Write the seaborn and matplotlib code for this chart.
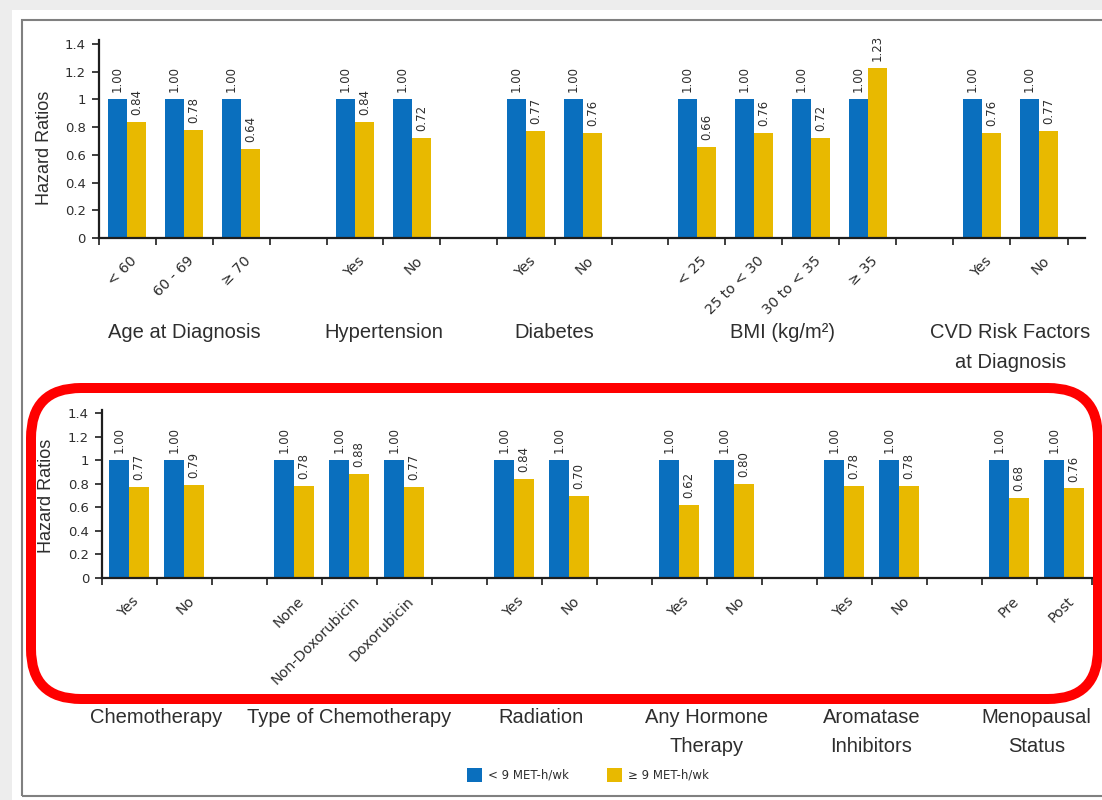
import numpy as np
import pandas as pd
import matplotlib
matplotlib.use("Agg")
import matplotlib.pyplot as plt
import seaborn as sns
from matplotlib import transforms
from matplotlib.patches import FancyBboxPatch, Rectangle

# ---------------- data ----------------
series_names = ["< 9 MET-h/wk", "≥ 9 MET-h/wk"]

top_groups = ["Age at Diagnosis", "Hypertension", "Diabetes", "BMI (kg/m²)",
              "CVD Risk Factors\nat Diagnosis"]
top_levels = [["< 60", "60 - 69", "≥ 70"], ["Yes", "No"], ["Yes", "No"],
              ["< 25", "25 to < 30", "30 to < 35", "≥ 35"], ["Yes", "No"]]
top_low_hr = [[1.00, 1.00, 1.00], [1.00, 1.00], [1.00, 1.00],
              [1.00, 1.00, 1.00, 1.00], [1.00, 1.00]]
top_high_hr = [[0.84, 0.78, 0.64], [0.84, 0.72], [0.77, 0.76],
               [0.66, 0.76, 0.72, 1.23], [0.76, 0.77]]

bottom_groups = ["Chemotherapy", "Type of Chemotherapy", "Radiation",
                 "Any Hormone\nTherapy", "Aromatase\nInhibitors", "Menopausal\nStatus"]
bottom_levels = [["Yes", "No"], ["None", "Non-Doxorubicin", "Doxorubicin"],
                 ["Yes", "No"], ["Yes", "No"], ["Yes", "No"], ["Pre", "Post"]]
bottom_low_hr = [[1.00, 1.00], [1.00, 1.00, 1.00], [1.00, 1.00],
                 [1.00, 1.00], [1.00, 1.00], [1.00, 1.00]]
bottom_high_hr = [[0.77, 0.79], [0.78, 0.88, 0.77], [0.84, 0.70],
                  [0.62, 0.80], [0.78, 0.78], [0.68, 0.76]]

y_ticks = [0, 0.2, 0.4, 0.6, 0.8, 1.0, 1.2, 1.4]
y_ticklabels = ["0", "0.2", "0.4", "0.6", "0.8", "1", "1.2", "1.4"]

# ---------------- style ----------------
BLUE = "#0a6fbe"
GOLD = "#e8b900"
TEXT = "#2e2e2e"
AXIS = "#1e1e1e"
RED = "#ff0000"

sns.set_style("white")
plt.rcParams["font.family"] = ["DejaVu Sans"]
LABEL_FONT = ["Liberation Sans", "DejaVu Sans"]

W, H = 1102, 800
fig = plt.figure(figsize=(W / 100, H / 100), dpi=100, facecolor="#ededed")


def px_axes(left, right, bottom, top):
    """Axes rectangle given in pixel coordinates (origin top-left)."""
    return fig.add_axes([left / W, 1 - bottom / H, (right - left) / W, (bottom - top) / H])


def build_panel(groups, levels, low, high):
    rows, order, ticklabels, centers = [], [], [], []
    for gi, (g, levs) in enumerate(zip(groups, levels)):
        if gi > 0:
            order.append(f"__gap{gi}")
            ticklabels.append("")
        first = len(order)
        for li, lev in enumerate(levs):
            key = f"{g}|{lev}"
            order.append(key)
            ticklabels.append(lev)
            rows.append({"slot": key, "activity": series_names[0], "hr": low[gi][li]})
            rows.append({"slot": key, "activity": series_names[1], "hr": high[gi][li]})
        centers.append((first + len(order) - 1) / 2)
    return pd.DataFrame(rows), order, ticklabels, centers


def draw_panel(ax, groups, levels, low, high, width, xmax_extra,
               group_top_px, ylabel_xy):
    df, order, ticklabels, centers = build_panel(groups, levels, low, high)
    sns.barplot(data=df, x="slot", y="hr", hue="activity", order=order,
                hue_order=series_names, palette=[BLUE, GOLD], width=width,
                errorbar=None, saturation=1, linewidth=0, ax=ax)
    ax.set_facecolor("none")

    for cont in ax.containers:
        ax.bar_label(cont, fmt="%.2f", rotation=90, padding=5,
                     fontsize=8.5, color=TEXT)

    n = len(order)
    ax.set_xlim(-0.5, n - 0.5 + xmax_extra)
    ax.set_ylim(0, 1.43)

    # ticks at slot boundaries, labels at slot centres
    ax.set_xticks(np.arange(n + 1) - 0.5, labels=[""] * (n + 1))
    ax.set_xticks(np.arange(n), labels=ticklabels, minor=True)
    ax.tick_params(axis="x", which="major", direction="out", length=5,
                   width=1.2, color=AXIS, bottom=True)
    ax.tick_params(axis="x", which="minor", length=0, pad=11.5, labelsize=10.3,
                   labelcolor=TEXT, bottom=True)
    shift = transforms.ScaledTranslation(3 / 100, 0, fig.dpi_scale_trans)
    for lab in ax.get_xticklabels(minor=True):
        lab.set_rotation(45)
        lab.set_ha("right")
        lab.set_va("top")
        lab.set_rotation_mode("anchor")
        lab.set_transform(lab.get_transform() + shift)

    ax.set_yticks(y_ticks, labels=y_ticklabels)
    ax.tick_params(axis="y", direction="out", length=5, width=1.2, color=AXIS,
                   pad=4, labelsize=9.5, labelcolor=TEXT, left=True)

    ax.set_xlabel("")
    ax.set_ylabel("Hazard Ratios", fontsize=13, color=TEXT, family=LABEL_FONT)
    ax.yaxis.set_label_coords(*ylabel_xy)

    sns.despine(ax=ax)
    for side in ("left", "bottom"):
        ax.spines[side].set_linewidth(1.6)
        ax.spines[side].set_color(AXIS)

    handles, labels = ax.get_legend_handles_labels()
    if ax.get_legend() is not None:
        ax.get_legend().remove()

    # category group captions under each block of bars
    tr = transforms.blended_transform_factory(ax.transData, fig.transFigure)
    for g, cx in zip(groups, centers):
        ax.text(cx, 1 - group_top_px / H, g, transform=tr, ha="center",
                va="top", fontsize=14.5, color=TEXT, family=LABEL_FONT,
                linespacing=1.7, clip_on=False)
    return handles, labels


# background sheet and frame
fig.add_artist(Rectangle((0.12, 0), 10.9, 7.9, transform=fig.dpi_scale_trans,
                         facecolor="white", edgecolor="none", zorder=-10))
fig.add_artist(Rectangle((0.215, 0.04), 11.0, 7.765, transform=fig.dpi_scale_trans,
                         facecolor="none", edgecolor="#808080", lw=1.5, zorder=-9))

ax_top = px_axes(98.5, 98.5 + 17.3 * 57, 238, 238 - 1.43 * 138.6)
ax_bot = px_axes(101.5, 101.5 + 18.05 * 55, 578, 578 - 1.43 * 117.8)

handles, labels = draw_panel(ax_top, top_groups, top_levels, top_low_hr, top_high_hr,
                             width=0.667, xmax_extra=0.3, group_top_px=323,
                             ylabel_xy=(-0.046, 0.457))
draw_panel(ax_bot, bottom_groups, bottom_levels, bottom_low_hr, bottom_high_hr,
           width=0.73, xmax_extra=0.05, group_top_px=708,
           ylabel_xy=(-0.047, 0.49))

fig.legend(handles, labels, loc="center", bbox_to_anchor=(588 / W, 1 - 775 / H),
           ncol=2, frameon=False, fontsize=8.5, handlelength=1.3, handleheight=1.4,
           handletextpad=0.5, columnspacing=3.2, labelcolor=TEXT)

# highlight around the treatment panel
fig.add_artist(FancyBboxPatch((0.31, 1.01), 10.67, 3.11,
                              boxstyle="round,pad=0,rounding_size=0.5",
                              transform=fig.dpi_scale_trans, fill=False,
                              edgecolor=RED, lw=7.2, zorder=10))

fig.savefig("out.png", dpi=100, facecolor=fig.get_facecolor())
